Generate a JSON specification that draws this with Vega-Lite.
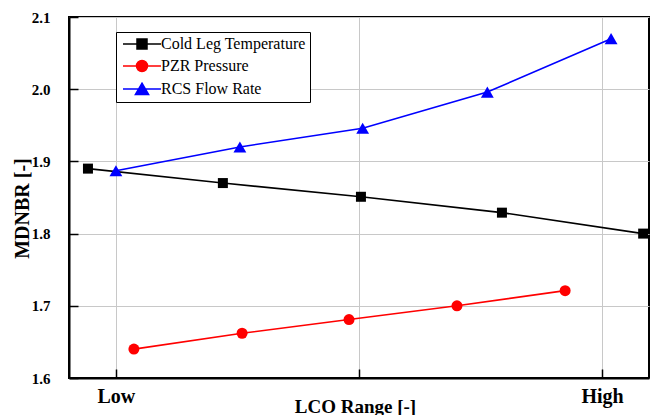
{
  "$schema": "https://vega.github.io/schema/vega-lite/v6.json",
  "width": 580,
  "height": 361,
  "autosize": {"type": "none"},
  "padding": {"left": 69, "top": 17, "right": 5, "bottom": 37},
  "background": "white",
  "config": {"view": {"stroke": "black", "strokeWidth": 2}, "font": "Liberation Serif"},
  "data": {"values": [
    {"series": "Cold Leg Temperature", "x": -0.115, "y": 1.890},
    {"series": "Cold Leg Temperature", "x": 0.440, "y": 1.870},
    {"series": "Cold Leg Temperature", "x": 1.008, "y": 1.851},
    {"series": "Cold Leg Temperature", "x": 1.588, "y": 1.829},
    {"series": "Cold Leg Temperature", "x": 2.169, "y": 1.800},
    {"series": "PZR Pressure", "x": 0.074, "y": 1.640},
    {"series": "PZR Pressure", "x": 0.519, "y": 1.662},
    {"series": "PZR Pressure", "x": 0.959, "y": 1.681},
    {"series": "PZR Pressure", "x": 1.403, "y": 1.700},
    {"series": "PZR Pressure", "x": 1.848, "y": 1.721},
    {"series": "RCS Flow Rate", "x": 0.0, "y": 1.887},
    {"series": "RCS Flow Rate", "x": 0.510, "y": 1.920},
    {"series": "RCS Flow Rate", "x": 1.015, "y": 1.946},
    {"series": "RCS Flow Rate", "x": 1.528, "y": 1.996},
    {"series": "RCS Flow Rate", "x": 2.037, "y": 2.070}
  ]},
  "encoding": {
    "x": {
      "field": "x", "type": "quantitative",
      "scale": {"domain": [-0.193, 2.193], "nice": false, "zero": false},
      "axis": {
        "values": [0, 1, 2],
        "labelExpr": "datum.value == 0 ? 'Low' : datum.value == 2 ? 'High' : ''",
        "labelFont": "Liberation Serif", "labelFontWeight": "bold", "labelFontSize": 20, "labelColor": "black",
        "labelPadding": 17, "tickSize": -9, "tickColor": "black", "tickWidth": 1.5,
        "domainColor": "black", "domainWidth": 2,
        "grid": true,
        "gridColor": "#c8c8c8",
        "gridWidth": 1,
        "encode": {"grid": {"update": {"strokeOpacity": {"signal": "datum.value > 0.5 && datum.value < 1.5 ? 0 : 1"}}}},
        "title": "LCO Range [-]",
        "titleFont": "Liberation Serif", "titleFontWeight": "bold", "titleFontSize": 19, "titleColor": "black",
        "titleX": 286, "titleY": 28, "titleAlign": "center", "titleBaseline": "middle"
      }
    },
    "y": {
      "field": "y", "type": "quantitative",
      "scale": {"domain": [1.6, 2.1], "nice": false, "zero": false},
      "axis": {
        "values": [1.6, 1.7, 1.8, 1.9, 2.0, 2.1],
        "format": ".1f",
        "labelFont": "Liberation Serif", "labelFontWeight": "bold", "labelFontSize": 15, "labelColor": "black",
        "labelPadding": 28, "tickSize": -9, "tickColor": "black", "tickWidth": 1.5,
        "domainColor": "black", "domainWidth": 2,
        "grid": true, "gridColor": "#c8c8c8", "gridWidth": 1,
        "title": "MDNBR [-]",
        "titleFont": "Liberation Serif", "titleFontWeight": "bold", "titleFontSize": 20, "titleColor": "black",
        "titleX": -47, "titleY": 191, "titleAngle": 270, "titleAlign": "center", "titleBaseline": "middle"
      }
    },
    "color": {
      "field": "series", "type": "nominal",
      "scale": {"domain": ["Cold Leg Temperature", "PZR Pressure", "RCS Flow Rate"], "range": ["#000000", "#ff0000", "#0000ff"]},
      "legend": {
        "orient": "none", "legendX": 47, "legendY": 15, "title": null,
        "strokeColor": "black", "fillColor": "white", "padding": 4,
        "labelFont": "Liberation Serif", "labelFontSize": 16, "labelColor": "black",
        "symbolSize": 100, "labelOffset": 25, "rowPadding": 5, "symbolStrokeWidth": 1.5,
        "encode": {
          "symbols": {
            "update": {
              "shape": {"signal": "datum.value === 'PZR Pressure' ? 'M-1,0H6.6M1.7,0A1.1,1.1,0,1,1,3.9,0A1.1,1.1,0,1,1,1.7,0Z' : datum.value === 'RCS Flow Rate' ? 'M-1,0H6.6M2.8,-1.15L4.12,1.1L1.48,1.1Z' : 'M-1,0H6.6M1.8,-1H3.8V1H1.8Z'"},
              "fill": {"signal": "datum.value === 'PZR Pressure' ? '#ff0000' : datum.value === 'RCS Flow Rate' ? '#0000ff' : '#000000'"},
              "stroke": {"signal": "datum.value === 'PZR Pressure' ? '#ff0000' : datum.value === 'RCS Flow Rate' ? '#0000ff' : '#000000'"}
            }
          }
        }
      }
    }
  },
  "layer": [
    {"mark": {"type": "line", "strokeWidth": 1.6}},
    {
      "transform": [{"filter": "datum.series === 'Cold Leg Temperature'"}],
      "mark": {"type": "point", "filled": true, "opacity": 1, "shape": "square", "size": 100}
    },
    {
      "transform": [{"filter": "datum.series === 'PZR Pressure'"}],
      "mark": {"type": "point", "filled": true, "opacity": 1, "shape": "circle", "size": 121}
    },
    {
      "transform": [{"filter": "datum.series === 'RCS Flow Rate'"}],
      "mark": {"type": "point", "filled": true, "opacity": 1, "shape": "triangle-up", "size": 165}
    }
  ]
}
